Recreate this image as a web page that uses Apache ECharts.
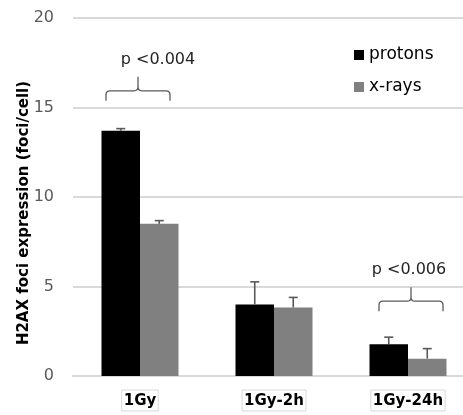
<!DOCTYPE html>
<html><head><meta charset="utf-8">
<script src="https://cdn.jsdelivr.net/npm/echarts@6/dist/echarts.min.js"></script>
<style>html,body{margin:0;padding:0;background:#fff}#c{width:463px;height:415px}</style>
</head><body><div id="c"></div>
<script>
// ---- data ----
const categories = ['1Gy', '1Gy-2h', '1Gy-24h'];
const protons = [13.7, 4.0, 1.77];
const protonsErr = [0.12, 1.26, 0.4];
const xrays = [8.5, 3.83, 0.97];
const xraysErr = [0.18, 0.56, 0.56];
const yMin = 0, yMax = 20, yInterval = 5;
const annotationTexts = ['p <0.004', 'p <0.006'];
const annotationCats = [0, 2];
const annotationLevels = [15.93, 4.18];   // value of the brace's horizontal line

// ---- styles ----
const FONT = 'DejaVu Sans';
const BAR_W = 38.5;
const chart = echarts.init(document.getElementById('c'), null, {renderer: 'canvas'});

function errData(vals, errs) { return vals.map((v, i) => [i, v, v + errs[i]]); }
function errRender(sign) {
  return function (params, api) {
    const cat = api.value(0);
    const p0 = api.coord([cat, api.value(1)]);
    const p1 = api.coord([cat, api.value(2)]);
    const x = p0[0] + sign * BAR_W / 2;
    const st = {stroke: '#595959', lineWidth: 1.6, fill: null};
    return {type: 'group', children: [
      {type: 'line', shape: {x1: x, y1: p0[1], x2: x, y2: p1[1]}, style: st},
      {type: 'line', shape: {x1: x - 4.5, y1: p1[1], x2: x + 4.5, y2: p1[1]}, style: st}
    ]};
  };
}
const braceData = annotationCats.map((c, i) => [c, annotationLevels[i], annotationTexts[i]]);
const textShift = [18, 1];
const braceShift = [-2, 3];
function braceRender(params, api) {
  const p = api.coord([api.value(0), api.value(1)]);
  const xc = p[0] + braceShift[params.dataIndex], y = p[1];
  const hw = 32, r = 4, tip = 14, end = 10;
  const x0 = xc - hw, x1 = xc + hw;
  const d = `M${x0},${y + end} L${x0},${y + r} Q${x0},${y} ${x0 + r},${y} L${xc - r},${y} Q${xc},${y} ${xc},${y - r} L${xc},${y - tip} M${xc},${y - r} Q${xc},${y} ${xc + r},${y} L${x1 - r},${y} Q${x1},${y} ${x1},${y + r} L${x1},${y + end}`;
  return {type: 'group', children: [
    {type: 'path', shape: {pathData: d}, style: {stroke: '#595959', lineWidth: 1.3, fill: null}},
    {type: 'text', x: p[0] + textShift[params.dataIndex], y: y - 31,
     style: {text: api.value(2), fill: '#262626', font: '16px "' + FONT + '"', align: 'center', verticalAlign: 'middle'}}
  ]};
}

chart.setOption({
  animation: false,
  backgroundColor: '#fff',
  grid: {left: 73, right: -12, top: 18, bottom: 39, containLabel: false, outerBoundsMode: 'none'},
  legend: {
    orient: 'vertical', left: 354, top: 45, padding: 0, itemWidth: 10, itemHeight: 10, itemGap: 12,
    icon: 'rect', data: ['protons', 'x-rays'],
    textStyle: {fontFamily: FONT, fontSize: 17, color: '#000', lineHeight: 20}
  },
  xAxis: {
    type: 'category', data: categories,
    axisLine: {lineStyle: {color: '#d9d9d9', width: 2}},
    axisTick: {show: false},
    axisLabel: {
      fontFamily: FONT, fontSize: 15, fontWeight: 'bold', color: '#000', margin: 14,
      borderColor: '#d9d9d9', borderWidth: 1, padding: [4, 2, 2, 2]
    }
  },
  yAxis: {
    type: 'value', min: yMin, max: yMax, interval: yInterval,
    name: 'H2AX foci expression (foci/cell)', nameLocation: 'middle', nameGap: 41, nameRotate: 90,
    nameMoveOverlap: false,
    nameTextStyle: {fontFamily: FONT, fontSize: 15, fontWeight: 'bold', color: '#000', padding: [0, 32, 0, 0]},
    axisLine: {show: false}, axisTick: {show: false},
    axisLabel: {fontFamily: FONT, fontSize: 16, color: '#595959', margin: 19},
    splitLine: {lineStyle: {color: '#d9d9d9', width: 2}}
  },
  series: [
    {name: 'protons', type: 'bar', data: protons, barWidth: BAR_W, barGap: '0%', itemStyle: {color: '#000000'}},
    {name: 'x-rays', type: 'bar', data: xrays, barWidth: BAR_W, barGap: '0%', itemStyle: {color: '#808080'}},
    {type: 'custom', renderItem: errRender(-1), data: errData(protons, protonsErr), z: 5},
    {type: 'custom', renderItem: errRender(1), data: errData(xrays, xraysErr), z: 5},
    {type: 'custom', renderItem: braceRender, data: braceData, z: 5}
  ]
});
</script>
</body></html>
